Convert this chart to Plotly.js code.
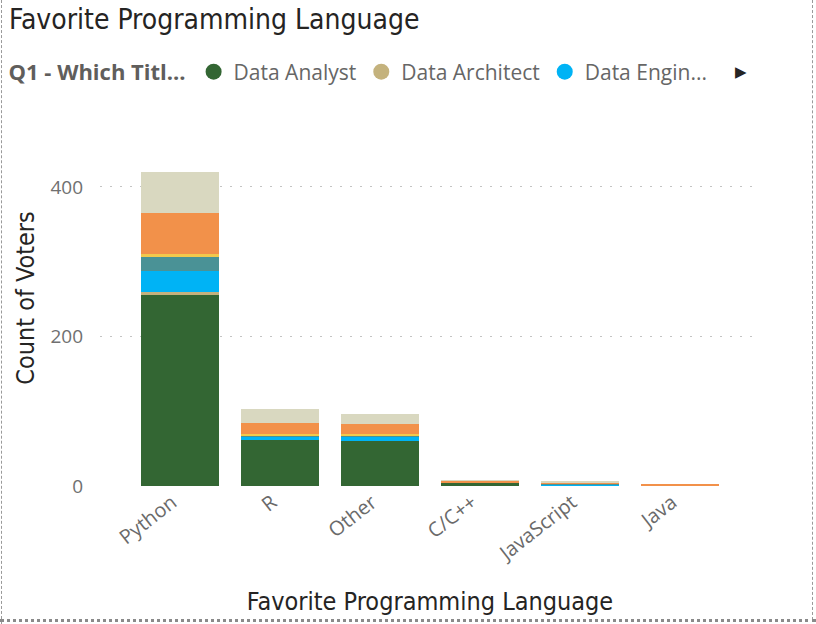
<!DOCTYPE html>
<html>
<head>
<meta charset="utf-8">
<script src="https://cdn.plot.ly/plotly-3.0.1.min.js"></script>
<style>
  html, body { margin: 0; padding: 0; background: #fff; }
  #wrap { position: absolute; left: 0; top: 0; width: 816px; height: 624px; overflow: hidden; }
  #chart { width: 816px; height: 624px; }
  #bl { position: absolute; left: 1px; top: 0; width: 0; height: 624px; border-left: 1px dashed #9a9a9a; }
  #br { position: absolute; left: 812px; top: 0; width: 0; height: 620px; border-left: 1px dashed #9a9a9a; }
  #bb { position: absolute; left: 0; top: 619px; width: 816px; height: 0; border-top: 3px dotted #8a8a8a; }
</style>
</head>
<body>
<div id="wrap">
  <div id="chart"></div>
  <div id="bl"></div><div id="br"></div><div id="bb"></div>
</div>
<script>
// ---- data ----
const languages = ['Python', 'R', 'Other', 'C/C++', 'JavaScript', 'Java'];
const roles = ['Data Analyst', 'Data Architect', 'Data Engineer', 'Data Scientist',
               'Database Developer', 'Other', 'Student/Looking/None'];
const dataAnalyst       = [255, 61, 60, 5, 0, 0];
const dataArchitect     = [4, 0, 0, 0, 0, 1];
const dataEngineer      = [29, 4, 6, 0, 2, 0];
const dataScientist     = [19, 3, 1, 0, 1, 0];
const databaseDeveloper = [3, 1, 2, 0, 0, 0];
const otherRole         = [55, 15, 14, 2, 2, 1];
const studentNone       = [55, 19, 13, 1, 1, 0];
const legendLabels = ['Data Analyst', 'Data Architect', 'Data Engin...'];
const yTicks = [0, 200, 400];

// ---- styles ----
const colors = ['#336633', '#C4B27D', '#00B3F5', '#4A9296', '#F2C94C', '#F2914A', '#D9D8C0'];
const seriesValues = [dataAnalyst, dataArchitect, dataEngineer, dataScientist,
                      databaseDeveloper, otherRole, studentNone];

const traces = seriesValues.map((vals, i) => ({
  type: 'bar',
  name: roles[i],
  x: languages,
  y: vals,
  marker: { color: colors[i], line: { width: 0 } },
  showlegend: false,
  hovertemplate: '%{x}<br>' + roles[i] + ': %{y}<extra></extra>'
}));

// legend entries (circle symbols, as in the reference)
legendLabels.forEach((lab, i) => {
  traces.push({
    type: 'scatter', mode: 'markers', name: lab,
    x: [null], y: [null],
    marker: { symbol: 'circle', size: 16, color: colors[i] },
    showlegend: true, hoverinfo: 'skip'
  });
});

const dinFont = '"DejaVu Sans Condensed", "Roboto", sans-serif';
const uiFont = '"Open Sans", "Noto Sans", sans-serif';

const layout = {
  width: 816, height: 624,
  paper_bgcolor: '#ffffff', plot_bgcolor: '#ffffff',
  margin: { l: 100, r: 56, t: 110, b: 138 },
  barmode: 'stack',
  bargap: 0.22,
  title: {
    text: 'Favorite Programming Language',
    font: { family: dinFont, size: 28, color: '#252423' },
    x: 9 / 816, xref: 'container', xanchor: 'left',
    y: 1 - 19 / 624, yref: 'container', yanchor: 'middle'
  },
  xaxis: {
    type: 'category',
    range: [-0.8, 5.8],
    tickangle: -38,
    ticklabelshift: -8,
    tickfont: { family: uiFont, size: 20, color: '#6a6a6a' },
    showgrid: false, zeroline: false, showline: false,
    ticks: '',
    title: {
      text: 'Favorite Programming Language',
      font: { family: dinFont, size: 25, color: '#252423' },
      standoff: 26
    },
    fixedrange: true
  },
  yaxis: {
    range: [0, 503],
    tickvals: yTicks,
    ticktext: yTicks.map(String),
    tickfont: { family: uiFont, size: 19, color: '#707070' },
    ticklabelstandoff: 16,
    showgrid: true, gridcolor: '#c4c4c4', gridwidth: 1, griddash: '2px,8px',
    zeroline: false, showline: false, ticks: '',
    title: {
      text: 'Count of Voters',
      font: { family: dinFont, size: 25, color: '#252423' },
      standoff: 8
    },
    fixedrange: true
  },
  showlegend: true,
  legend: {
    orientation: 'h',
    traceorder: 'normal',
    xref: 'container', yref: 'container',
    x: 0.008, y: 1 - 72 / 624, xanchor: 'left', yanchor: 'middle',
    font: { family: uiFont, size: 21, color: '#666666' },
    title: {
      text: '<b>Q1 - Which Titl...</b>',
      side: 'left',
      font: { family: uiFont, size: 22, color: '#605E5C' }
    },
    itemwidth: 30,
    tracegroupgap: 0,
    bgcolor: 'rgba(0,0,0,0)'
  },
  annotations: [{
    text: '\u25B6', xref: 'paper', yref: 'paper',
    x: (741 - 100) / 660, y: (486 - 72) / 376,
    xanchor: 'center', yanchor: 'middle', showarrow: false,
    font: { family: 'DejaVu Sans', size: 15, color: '#252423' }
  }]
};

Plotly.newPlot('chart', traces, layout, { displayModeBar: false });
</script>
</body>
</html>
